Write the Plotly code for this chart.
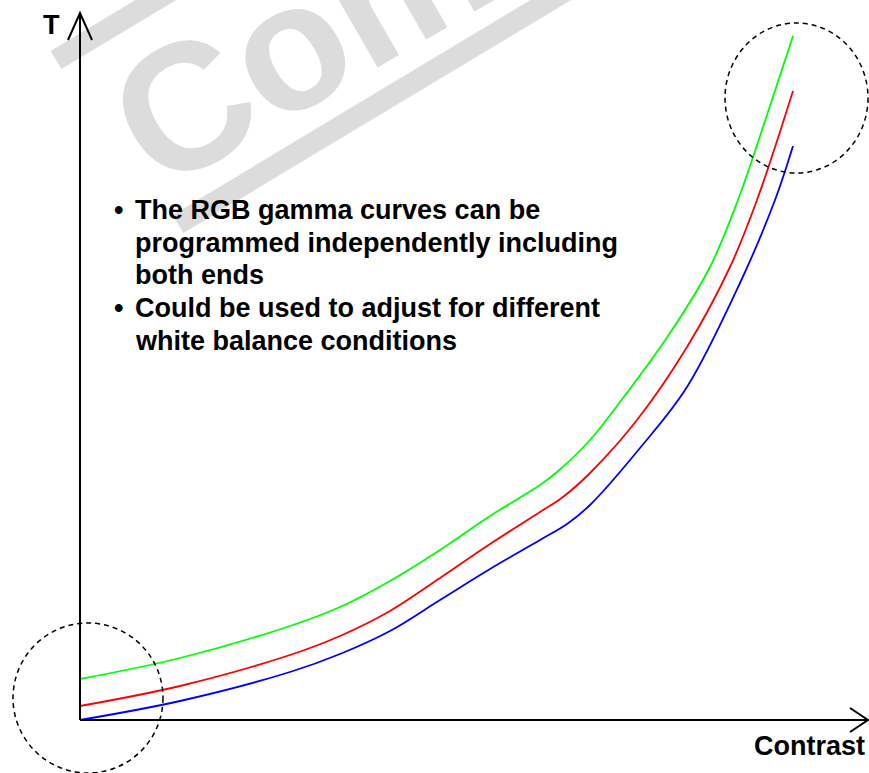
import plotly.graph_objects as go

# ---- data (x = contrast, y = T), origin at axes crossing ----
green_x = [0, 100, 210, 260, 310, 360, 410, 460, 477, 510, 540, 590, 630, 658, 686, 713]
green_y = [41, 62, 94, 113, 139, 170, 204, 235, 248, 280, 318, 387, 453, 520, 602, 684]

red_x = [0, 100, 210, 260, 310, 360, 410, 460, 483, 510, 557, 607, 650, 677, 713]
red_y = [14, 34, 65, 84, 109, 142, 176, 208, 223, 247, 300, 373, 453, 520, 629]

blue_x = [0, 100, 210, 260, 310, 360, 410, 460, 487, 510, 560, 607, 660, 695, 713]
blue_y = [0, 19, 48, 66, 89, 120, 151, 180, 196, 215, 272, 333, 437, 520, 574]

bullet_lines = [
    ("\u2022", "The RGB gamma curves can be"),
    ("", "programmed independently including"),
    ("", "both ends"),
    ("\u2022", "Could be used to adjust for different"),
    ("", "white balance conditions"),
]
y_label = "T"
x_label = "Contrast"
watermark = "Com"

W, H = 869, 773
OX, OY = 80, 720  # origin pixel


def dx(px):
    return px - OX


def dy(py):
    return OY - py


fig = go.Figure()
for xs, ys, col in [(green_x, green_y, "#00ff00"), (red_x, red_y, "#ff0000"), (blue_x, blue_y, "#0000ff")]:
    fig.add_trace(go.Scatter(x=xs, y=ys, mode="lines",
                             line=dict(color=col, width=1.8, shape="spline", smoothing=1.0),
                             hoverinfo="skip", showlegend=False))

gray = "#dcdcdc"
shapes = []
# watermark bands
shapes.append(dict(type="line", xref="x", yref="y", x0=dx(56), y0=dy(60), x1=dx(913), y1=dy(-455),
                   line=dict(color=gray, width=21), layer="below"))
shapes.append(dict(type="line", xref="x", yref="y", x0=dx(178), y0=dy(224), x1=dx(1035), y1=dy(-291),
                   line=dict(color=gray, width=21), layer="below"))
# axes
shapes.append(dict(type="line", x0=0, y0=0, x1=0, y1=dy(13), line=dict(color="black", width=2)))
shapes.append(dict(type="line", x0=0, y0=0, x1=dx(868), y1=0, line=dict(color="black", width=2)))
shapes.append(dict(type="path", path=f"M {dx(68)},{dy(40)} L 0,{dy(13)} L {dx(92)},{dy(40)}",
                   line=dict(color="black", width=2)))
shapes.append(dict(type="path", path=f"M {dx(850)},{dy(708)} L {dx(868)},{dy(720)} L {dx(850)},{dy(732)}",
                   line=dict(color="black", width=2)))
# dashed circles
shapes.append(dict(type="circle", x0=dx(13), x1=dx(163), y0=dy(773), y1=dy(623),
                   line=dict(color="black", width=1.5, dash="5px,4px")))
shapes.append(dict(type="circle", x0=dx(725), x1=dx(868), y0=dy(173), y1=dy(23),
                   line=dict(color="black", width=1.5, dash="5px,4px")))

annotations = []
annotations.append(dict(text=watermark, xref="paper", yref="paper", x=301 / W, y=1 - 39.5 / H,
                        xanchor="center", yanchor="middle", showarrow=False, textangle=-30,
                        font=dict(family="Liberation Sans", size=180, color=gray, weight="bold")))
bold = dict(family="Liberation Sans", size=27, color="black", weight="bold")
annotations.append(dict(text=y_label, x=dx(51), y=dy(25), showarrow=False, xanchor="center",
                        yanchor="middle", font=bold))
annotations.append(dict(text=x_label, x=dx(867), y=dy(746), showarrow=False, xanchor="right",
                        yanchor="middle", font=bold))
line_y = [210, 242.5, 275, 308, 340.5]
for (b, t), py in zip(bullet_lines, line_y):
    if b:
        annotations.append(dict(text=b, x=dx(118), y=dy(py), showarrow=False, xanchor="center",
                                yanchor="middle", font=bold))
    annotations.append(dict(text=t, x=dx(133), y=dy(py), showarrow=False, xanchor="left",
                            yanchor="middle", font=bold))

fig.update_layout(
    width=W, height=H, margin=dict(l=0, r=0, t=0, b=0),
    paper_bgcolor="white", plot_bgcolor="white",
    xaxis=dict(range=[dx(0), dx(W)], visible=False, fixedrange=True),
    yaxis=dict(range=[dy(H), dy(0)], visible=False, fixedrange=True),
    shapes=shapes, annotations=annotations, showlegend=False,
)
fig.write_html("out.html", config={"displayModeBar": False},
               post_script="document.body.style.margin='0px';document.body.style.overflow='hidden';")
